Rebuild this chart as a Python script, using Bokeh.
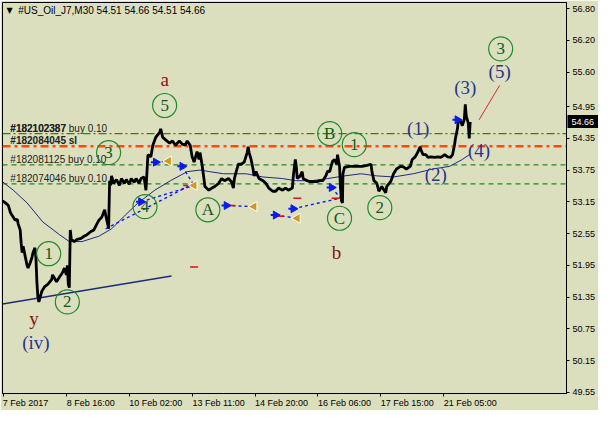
import math
from bokeh.plotting import figure
from bokeh.models import Range1d, FixedTicker, Label, Span, LinearAxis
from bokeh.embed import file_html
from bokeh.resources import INLINE
from bokeh.core.properties import value

# ---------------- data ----------------
# price path of the M30 chart: bar index (0 = first bar) and price
price_bar = [-1, 2, 5, 7, 10, 12, 14, 15, 17, 18,
             19, 20, 22, 24, 25, 27, 29, 30, 32, 33,
             34, 35, 36, 39, 42, 45, 49, 50, 54, 57,
             60, 62, 64, 65, 66, 67, 68, 69, 72, 75,
             79, 82, 85, 89, 92, 95, 97, 100, 103, 104,
             106, 107, 108, 109, 110, 112, 115, 118, 120, 123,
             125, 128, 130, 133, 135, 138, 140, 143, 145, 147,
             150, 152, 155, 159, 160, 162, 165, 169, 172, 175,
             179, 182, 185, 187, 190, 192, 194, 197, 199, 200,
             202, 204, 205, 209, 212, 215, 219, 222, 225, 229,
             232, 234, 235, 237, 239, 242, 245, 248, 249, 250,
             252, 254, 255, 257, 260, 264, 267, 270, 274, 277,
             280, 284, 287, 290, 294, 295, 297, 298, 299, 302,
             304, 305, 309, 312, 315, 319, 322, 325, 328, 330,
             332, 334, 335, 337, 339, 340, 342, 343, 344, 345,
             345.5, 347, 352, 359, 365, 370, 374, 375, 377, 380,
             382, 385, 389, 390, 394, 397, 400, 404, 407, 410,
             414, 416, 419, 422, 424, 425, 427, 430, 432, 435,
             439, 442, 445, 449, 452, 455, 457, 459, 460, 462,
             463, 465, 467, 469, 470, 471, 473, 474, 475]
price_val = [53.17, 53.13, 53.08, 52.95, 52.86, 52.80, 52.82, 52.73, 52.62, 52.37,
             52.19, 52.31, 52.13, 51.95, 51.90, 51.99, 52.10, 52.19, 52.28, 52.10,
             51.64, 51.35, 51.26, 51.46, 51.55, 51.59, 51.68, 51.77, 51.64, 51.73,
             51.81, 51.90, 51.77, 51.95, 51.59, 51.53, 52.62, 52.44, 52.40, 52.44,
             52.46, 52.50, 52.53, 52.59, 52.62, 52.73, 52.80, 52.86, 53.00, 52.90,
             52.73, 52.64, 53.55, 53.46, 53.64, 53.50, 53.57, 53.46, 53.59, 53.50,
             53.57, 53.48, 53.59, 53.52, 53.59, 53.50, 53.59, 53.62, 53.37, 54.04,
             54.00, 54.22, 54.37, 54.46, 54.53, 54.37, 54.32, 54.26, 54.30, 54.22,
             54.30, 54.24, 54.22, 54.30, 54.22, 54.00, 53.90, 54.10, 53.95, 54.08,
             53.86, 53.59, 53.44, 53.37, 53.41, 53.44, 53.50, 53.59, 53.55, 53.59,
             53.53, 53.41, 53.59, 53.73, 53.86, 53.86, 53.90, 54.08, 54.19, 54.08,
             53.95, 53.77, 53.64, 53.72, 53.59, 53.55, 53.50, 53.41, 53.35, 53.35,
             53.41, 53.37, 53.41, 53.37, 53.41, 53.64, 53.95, 53.82, 53.59, 53.64,
             53.72, 53.59, 53.55, 53.53, 53.53, 53.53, 53.55, 53.55, 53.64, 53.73,
             53.72, 53.86, 53.92, 53.95, 53.86, 54.04, 53.82, 53.41, 53.17, 53.13,
             53.68, 53.80, 53.82, 53.82, 53.82, 53.84, 53.86, 53.72, 53.55, 53.50,
             53.35, 53.44, 53.32, 53.44, 53.53, 53.68, 53.77, 53.82, 53.81, 53.77,
             53.82, 53.95, 54.00, 54.10, 54.19, 54.13, 54.04, 54.04, 53.99, 54.00,
             53.99, 54.00, 53.99, 54.04, 54.00, 53.99, 54.04, 54.22, 54.35, 54.53,
             54.71, 54.68, 54.59, 54.71, 54.99, 54.77, 54.64, 54.35, 54.66]

ma_bar = [-1, 10, 24, 40, 57, 67, 80, 97, 110, 124, 137, 154, 170, 187, 200, 210,
          224, 247, 264, 284, 297, 314, 330, 347, 364, 380, 397, 417, 437, 454, 467, 474]
ma_val = [53.53, 53.37, 53.13, 52.77, 52.53, 52.40, 52.40, 52.50, 52.64, 52.90, 53.13, 53.37, 53.55, 53.72, 53.75, 53.72,
          53.68, 53.68, 53.62, 53.59, 53.55, 53.55, 53.59, 53.64, 53.68, 53.64, 53.62, 53.68, 53.77, 53.82, 53.95, 54.04]

trend_bar = [-1, 171]
trend_val = [51.22, 51.75]

last_price = 54.66
title_text = "#US_Oil_J7,M30  54.51 54.66 54.51 54.66"

order_levels = [54.44, 54.20, 53.85, 53.49]
order_texts = ["#182102387 buy 0.10", "#182084045 sl", "#182081125 buy 0.10", "#182074046 buy 0.10"]

time_tick_bars = [0, 64, 128, 192, 256, 320, 384, 448]
time_tick_labels = ["7 Feb 2017", "8 Feb 16:00", "10 Feb 02:00", "13 Feb 11:00",
                    "14 Feb 20:00", "16 Feb 06:00", "17 Feb 15:00", "21 Feb 05:00"]
price_tick_labels = ["49.55", "50.15", "50.75", "51.35", "51.95", "52.55", "53.15",
                     "53.75", "54.35", "54.95", "55.60", "56.20", "56.80"]

circle_bar = [164, 107, 144, 208, 332, 357, 342, 383, 46, 65, 506]
circle_val = [54.97, 54.08, 53.06, 53.00, 54.44, 54.23, 52.84, 53.04, 52.17, 51.26, 56.04]
circle_txt = ["5", "3", "4", "A", "B", "1", "C", "2", "1", "2", "3"]

red_bar = [164, 339, 31]
red_val = [55.46, 52.19, 50.95]
red_txt = ["a", "b", "y"]

navy_bar = [33, 422, 440, 470, 484, 505]
navy_val = [50.50, 54.53, 53.66, 55.31, 54.12, 55.62]
navy_txt = ["(iv)", "(1)", "(2)", "(3)", "(4)", "(5)"]

arrow_bar = [484, 505]
arrow_val = [54.70, 55.35]

trade_open_bar = [155, 182, 140, 104, 227, 277, 295, 334]
trade_open_val = [53.90, 53.82, 53.15, 52.64, 53.08, 52.90, 53.02, 53.42]
trade_close_bar = [168, 194, 194, 190, 255, 299, 343, 343]
trade_close_val = [53.92, 53.46, 53.46, 53.46, 53.06, 52.84, 53.22, 53.22]
open_mark_bar = [155, 182, 140, 227, 277, 295, 334, 462]
open_mark_val = [53.90, 53.82, 53.15, 53.08, 52.90, 53.02, 53.42, 54.70]
close_mark_bar = [168, 194, 255, 299]
close_mark_val = [53.92, 53.46, 53.06, 52.84]
stop_bar = [187, 194, 232, 281, 299, 338]
stop_val = [53.46, 51.92, 53.08, 52.88, 53.22, 53.22]

# ---------------- styling ----------------
BG = "#DCDFBE"
p = figure(width=598, height=410, x_range=Range1d(-1, 573), y_range=Range1d(49.53, 56.915),
           output_backend="svg", toolbar_location=None, y_axis_location="right",
           min_border_left=2, min_border_top=2, min_border_right=0, min_border_bottom=0)
p.background_fill_color = BG
p.border_fill_color = BG
p.outline_line_color = "black"
p.outline_line_width = 1
p.grid.visible = False

# axes
p.yaxis.ticker = FixedTicker(ticks=[float(t) for t in price_tick_labels])
p.yaxis.major_label_overrides = {float(t): t for t in price_tick_labels}
# time labels sit to the right of their tick marks (MetaTrader style):
# major ticks carry the (shifted) labels, minor ticks draw the tick marks
label_pos = [b + len(l) * 2.25 for b, l in zip(time_tick_bars, time_tick_labels)]
p.xaxis.ticker = FixedTicker(ticks=label_pos, minor_ticks=time_tick_bars)
p.xaxis.major_label_overrides = {pos: l for pos, l in zip(label_pos, time_tick_labels)}
for ax in (p.xaxis, p.yaxis):
    ax.axis_line_color = "black"
    ax.major_tick_line_color = "black"
    ax.major_tick_in = 0
    ax.major_tick_out = 3
    ax.minor_tick_line_color = None
    ax.major_label_text_font = "Liberation Sans"
    ax.major_label_text_font_size = "9px"
    ax.major_label_text_color = "black"
    ax.major_label_standoff = 3
p.xaxis.major_tick_line_color = None
p.xaxis.minor_tick_line_color = "black"
p.xaxis.minor_tick_in = 0
p.xaxis.minor_tick_out = 3
p.xaxis.major_label_standoff = 1

# current price marker on the price scale: a second right axis, stacked just
# outside the first one, whose single tick is drawn inward as a thick black bar
# with the white price label pulled back on top of it
price_axis = LinearAxis(ticker=FixedTicker(ticks=[last_price]),
                        axis_line_color=None, minor_tick_line_color=None,
                        major_tick_in=31, major_tick_out=3, major_tick_line_color="black",
                        major_tick_line_width=13, major_tick_line_cap="butt",
                        major_label_standoff=-30, major_label_text_color="white",
                        major_label_text_font="Liberation Sans",
                        major_label_text_font_size="9px")
p.add_layout(price_axis, "right")

# order lines
dashes = ["8 3 2 3", "8 4 3 4", "5 4", "5 4"]
colors = ["#1E8A1E", "#FF4A10", "#1E8A1E", "#1E8A1E"]
widths = [1.3, 2.5, 1.2, 1.2]
for lvl, d, c, w in zip(order_levels, dashes, colors, widths):
    p.add_layout(Span(location=lvl, dimension="width", line_color=c, line_dash=d,
                      line_width=w, level="underlay"))
p.text(x=[7] * 4, y=order_levels, text=order_texts, text_font=value("Liberation Sans"),
       text_font_size="10px", text_color="#222222", text_baseline="bottom",
       text_font_style=["normal", "bold", "normal", "normal"])
p.text(x=[7], y=[order_levels[0]], text=[order_texts[0].split(" ")[0]],
       text_font=value("Liberation Sans"), text_font_size="10px", text_color="#222222",
       text_baseline="bottom", text_font_style="bold")

# trend line and moving average
p.line(trend_bar, trend_val, line_color="#1C2A80", line_width=1.4)
p.line(ma_bar, ma_val, line_color="#1C2A80", line_width=1)

# trades
p.segment(trade_open_bar, trade_open_val, trade_close_bar, trade_close_val,
          line_color="#0A1AF0", line_dash="3 3", line_width=1.4)
p.scatter(stop_bar, stop_val, marker="dash", size=8, line_color="#E01010", line_width=1.5)

# price
p.line(price_bar, price_val, line_color="black", line_width=2.8)

p.scatter([b - 2 for b in open_mark_bar], open_mark_val, marker="dash", size=6,
          line_color="#0A1AF0", line_width=2)
p.scatter(open_mark_bar, open_mark_val, marker="triangle", angle=-math.pi / 2, size=8,
          fill_color="#0A1AF0", line_color="#0A1AF0")
p.scatter(close_mark_bar, close_mark_val, marker="triangle", angle=math.pi / 2, size=10,
          fill_color="#D09A20", line_color="white", line_width=1)

# wave labels
p.scatter(circle_bar, circle_val, marker="circle", size=24, fill_color=None,
          line_color="#1F8A2A", line_width=1.2)
p.text(circle_bar, circle_val, text=circle_txt, text_font=value("Liberation Serif"),
       text_font_size="17px", text_color="#0C5A14", text_align="center", text_baseline="middle")
p.text(red_bar, red_val, text=red_txt, text_font=value("Liberation Serif"),
       text_font_size="19px", text_color="#8A1010", text_align="center", text_baseline="middle")
p.text(navy_bar, navy_val, text=navy_txt, text_font=value("Liberation Serif"),
       text_font_size="19px", text_color="#2A3590", text_align="center", text_baseline="middle")
p.line(arrow_bar, arrow_val, line_color="#E0204A", line_width=1)

# header
p.add_layout(Label(x=3, y=56.77, text="▼", text_font="DejaVu Sans", text_font_size="8px",
                   text_color="black", text_baseline="middle"))
p.add_layout(Label(x=15, y=56.77, text=title_text, text_font="Liberation Sans",
                   text_font_size="10px", text_color="black", text_baseline="middle"))

open("out.html", "w").write(file_html(p, INLINE))
